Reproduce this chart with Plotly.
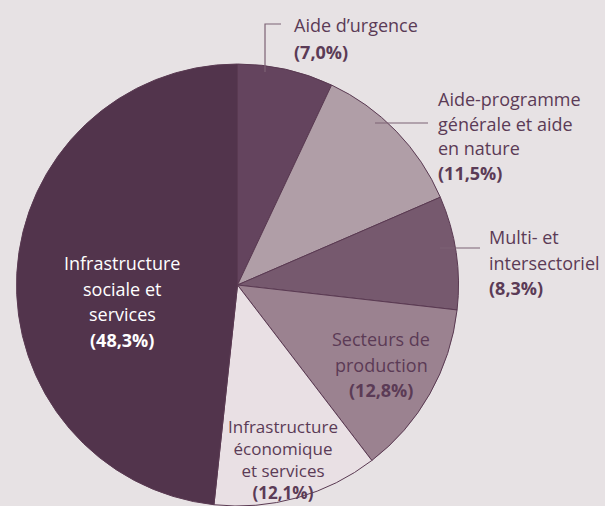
import plotly.graph_objects as go

# ---- data ----
categories = [
    "Aide d’urgence",
    "Aide-programme générale et aide en nature",
    "Multi- et intersectoriel",
    "Secteurs de production",
    "Infrastructure économique et services",
    "Infrastructure sociale et services",
]
label_lines = [
    ["Aide d’urgence"],
    ["Aide-programme", "générale et aide", "en nature"],
    ["Multi- et", "intersectoriel"],
    ["Secteurs de", "production"],
    ["Infrastructure", "économique", "et services"],
    ["Infrastructure", "sociale et", "services"],
]
shares = [7.0, 11.5, 8.3, 12.8, 12.1, 48.3]

slice_colors = ["#64445e", "#b09ea7", "#76596e", "#9b8290", "#e9e0e4", "#52344c"]
text_colors = ["#5b3b56", "#5b3b56", "#5b3b56", "#5b3b56", "#5b3b56", "#ffffff"]

W, H = 605, 506
BG = "#e7e2e4"
FONT = "Open Sans"

fig = go.Figure(go.Pie(
    labels=categories,
    values=shares,
    sort=False,
    direction="clockwise",
    rotation=0,
    textinfo="none",
    hoverinfo="label+percent",
    marker=dict(colors=slice_colors, line=dict(color="#5a3a52", width=1)),
    domain=dict(x=[16.5 / W, 458.5 / W], y=[0, 442 / H]),
    showlegend=False,
))

# label layout: (anchor x px, xanchor, first line y px, line spacing px, font size)
# spacing None -> one multi-line annotation (tight line spacing)
label_pos = [
    (292, "left", 25, 27, 18),
    (436, "left", 99, 24.7, 18),
    (487, "left", 237, 25.5, 18),
    (381, "center", 339, 25.5, 18),
    (283, "center", 459, None, 17),
    (122, "center", 263, 25.7, 18),
]

def px(x):
    return x / W

def py(y):
    return 1 - y / H

for lines, val, col, (x, xa, y0, dy, fs) in zip(label_lines, shares, text_colors, label_pos):
    pct = "(" + f"{val:.1f}".replace(".", ",") + "%)"
    all_lines = lines + [f"<b>{pct}</b>"]
    if dy is None:
        fig.add_annotation(
            x=px(x), y=py(y0), xref="paper", yref="paper",
            text="<br>".join(all_lines), showarrow=False, xanchor=xa,
            yanchor="middle", align="center",
            font=dict(family=FONT, size=fs, color=col),
        )
        continue
    for i, t in enumerate(all_lines):
        fig.add_annotation(
            x=px(x), y=py(y0 + i * dy), xref="paper", yref="paper",
            text=t, showarrow=False, xanchor=xa, yanchor="middle",
            font=dict(family=FONT, size=fs, color=col),
        )

# leader lines
lead = "#7d6275"
leaders = [
    [(265, 72), (265, 24), (281, 24)],
    [(375, 123), (428, 123)],
    [(440, 248), (480, 248)],
]
for pts in leaders:
    path = "M " + " L ".join(f"{px(a)},{py(b)}" for a, b in pts)
    fig.add_shape(type="path", path=path, xref="paper", yref="paper",
                  line=dict(color=lead, width=1.2))

fig.update_layout(
    width=W, height=H,
    margin=dict(l=0, r=0, t=0, b=0),
    paper_bgcolor=BG, plot_bgcolor=BG,
)

fig.write_html(
    "out.html",
    config={"displayModeBar": False},
    post_script="document.body.style.margin='0';document.body.style.overflow='hidden';",
)
